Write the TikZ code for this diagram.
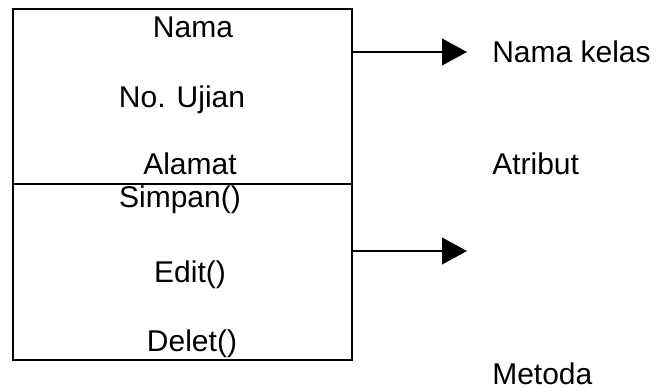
\documentclass[tikz,border=0pt]{standalone}
\usepackage{fontspec}
\setmainfont{Liberation Sans}
\usetikzlibrary{arrows.meta}
\begin{document}
\begin{tikzpicture}[x=0.75pt,y=-0.75pt,
  compartment/.style={draw,line width=1.5pt,inner sep=0pt,minimum width=254.25pt},
  label/.style={anchor=base,inner sep=0pt,font=\fontsize{22.5}{27}\selectfont},
  side/.style={anchor=base west,inner sep=0pt,font=\fontsize{22.5}{27}\selectfont},
  pointer/.style={line width=1.5pt,-{Triangle[length=18.75pt,width=20pt]}}]
  \useasboundingbox (0,0) rectangle (662,392);
  % class box: attribute and method compartments
  \node[compartment,minimum height=131.25pt] (attrbox) at (182.5,96.5) {};
  \node[compartment,minimum height=132pt] (methbox) at (182.5,272) {};
  % attribute names
  \node[label] (nama) at (193,38) {Nama};
  \node[label] (noujian) at (182,108) {No. Ujian};
  \node[label] (alamat) at (190,175) {Alamat};
  % method names
  \node[label] (simpan) at (180,208) {Simpan()};
  \node[label] (edit) at (190,283) {Edit()};
  \node[label] (delet) at (192,352) {Delet()};
  % explanations on the right
  \node[side] (namakelas) at (492,63) {Nama kelas};
  \node[side] (atribut) at (492,175) {Atribut};
  \node[side] (metoda) at (492,385) {Metoda};
  % pointers out of the box
  \coordinate (tipA) at (467,52);
  \coordinate (tipB) at (467,251);
  \draw[pointer] (attrbox.east |- tipA) -- (tipA);
  \draw[pointer] (methbox.east |- tipB) -- (tipB);
\end{tikzpicture}
\end{document}
